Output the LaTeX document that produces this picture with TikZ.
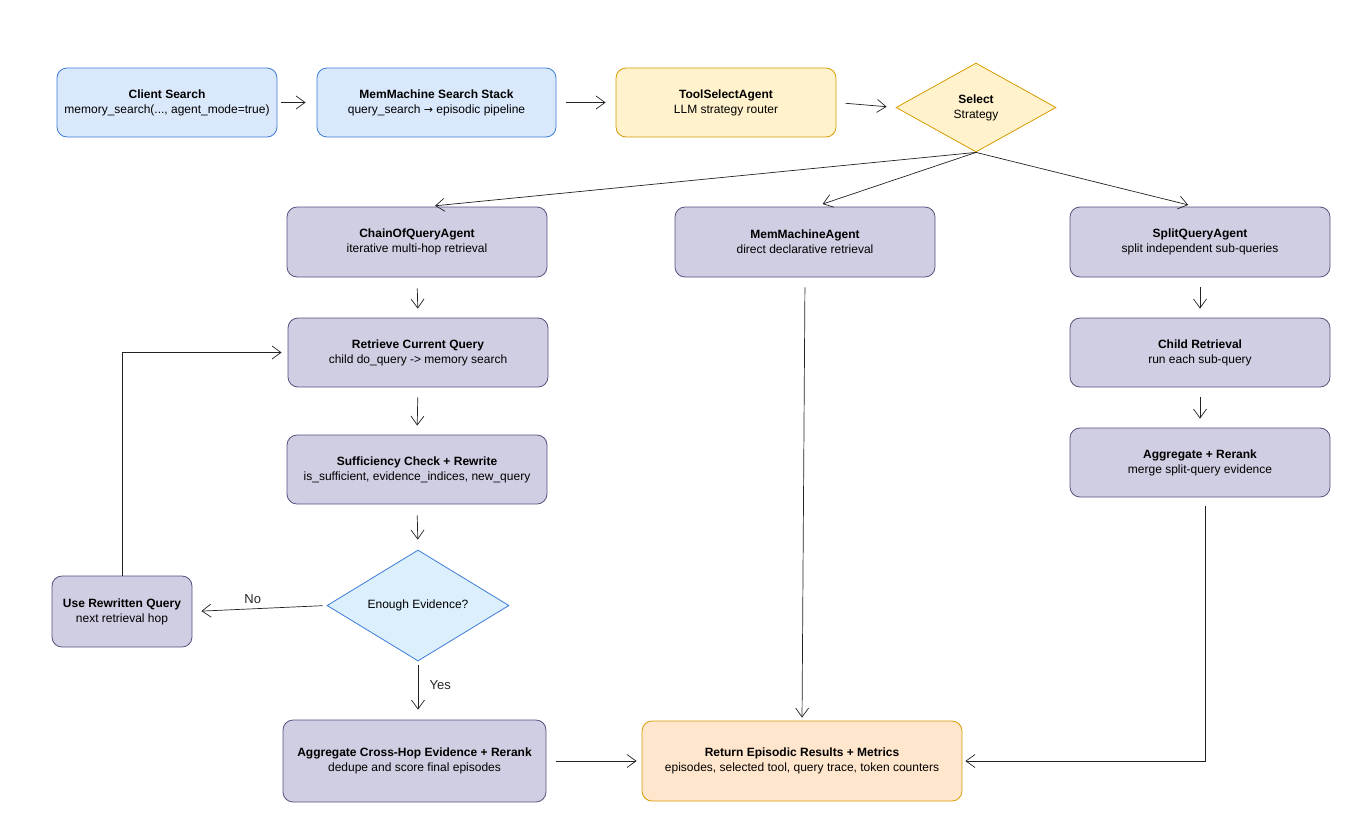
\documentclass[tikz,border=0pt]{standalone}
\usepackage{fontspec}
\setmainfont{Liberation Sans}
\newfontfamily\arrowfont{DejaVu Sans}
\usetikzlibrary{arrows.meta,shapes.geometric,calc}
\definecolor{bluefill}{HTML}{DAE8FC}
\definecolor{bluedraw}{HTML}{3D7BD9}
\definecolor{diafill}{HTML}{DCEFFD}
\definecolor{purfill}{HTML}{D0CEE2}
\definecolor{purdraw}{HTML}{56517E}
\definecolor{yelfill}{HTML}{FFF2CC}
\definecolor{orgdraw}{HTML}{D79B00}
\definecolor{orgfill}{HTML}{FFE6CC}
\definecolor{linec}{HTML}{222222}
\tikzset{
  box/.style={rectangle, rounded corners=10pt, line width=0.8pt, align=center,
    inner sep=2pt, font=\fontsize{12}{15}\selectfont},
  bluebox/.style={box, fill=bluefill, draw=bluedraw},
  purbox/.style={box, fill=purfill, draw=purdraw},
  yelbox/.style={box, fill=yelfill, draw=orgdraw},
  orgbox/.style={box, fill=orgfill, draw=orgdraw},
  dia/.style={diamond, aspect=2, inner sep=0pt, line width=0.8pt, align=center,
    font=\fontsize{12}{15}\selectfont},
  conn/.style={draw=linec, line width=0.7pt,
    -{Straight Barb[length=9pt,width=13pt,line width=0.7pt]}},
  lab/.style={font=\fontsize{13}{15}\selectfont, text=black!85},
}
\begin{document}
\begin{tikzpicture}[x=1pt,y=-1pt]
\useasboundingbox (0,0) rectangle (1364,828);
% top row
\node[bluebox, minimum width=220, minimum height=69] (cs) at (167,102.5)
  {\textbf{Client Search}\\memory\_search(..., agent\_mode=true)};
\node[bluebox, minimum width=239, minimum height=69] (mss) at (436.5,102.5)
  {\textbf{MemMachine Search Stack}\\query\_search {\arrowfont\fontsize{11}{15}\selectfont →} episodic pipeline};
\node[yelbox, minimum width=220, minimum height=69] (tsa) at (726,102.5)
  {\textbf{ToolSelectAgent}\\LLM strategy router};
\node[dia, fill=yelfill, draw=orgdraw, minimum width=160, minimum height=89] (sel) at (976,107.5)
  {\textbf{Select}\\Strategy};
% agents
\node[purbox, minimum width=260, minimum height=70] (coq) at (417,242)
  {\textbf{ChainOfQueryAgent}\\iterative multi-hop retrieval};
\node[purbox, minimum width=260, minimum height=70] (mma) at (805,242)
  {\textbf{MemMachineAgent}\\direct declarative retrieval};
\node[purbox, minimum width=260, minimum height=70] (sqa) at (1200,242)
  {\textbf{SplitQueryAgent}\\split independent sub-queries};
% left column
\node[purbox, minimum width=260, minimum height=69] (rcq) at (418,352.5)
  {\textbf{Retrieve Current Query}\\child do\_query -> memory search};
\node[purbox, minimum width=260, minimum height=69] (scr) at (417,469.5)
  {\textbf{Sufficiency Check + Rewrite}\\is\_sufficient, evidence\_indices, new\_query};
\node[dia, fill=diafill, draw=bluedraw, minimum width=182, minimum height=111] (ee) at (418,605.5)
  {Enough Evidence?};
\node[purbox, minimum width=140, minimum height=71] (urq) at (122,611.5)
  {\textbf{Use Rewritten Query}\\next retrieval hop};
\node[purbox, minimum width=263, minimum height=82] (ach) at (414.5,761)
  {\textbf{Aggregate Cross-Hop Evidence + Rerank}\\dedupe and score final episodes};
% right column
\node[purbox, minimum width=260, minimum height=69] (chr) at (1200,352.5)
  {\textbf{Child Retrieval}\\run each sub-query};
\node[purbox, minimum width=260, minimum height=69] (arr) at (1200,462.5)
  {\textbf{Aggregate + Rerank}\\merge split-query evidence};
% result
\node[orgbox, minimum width=320, minimum height=80] (ret) at (802,761)
  {\textbf{Return Episodic Results + Metrics}\\episodes, selected tool, query trace, token counters};
% connectors
\draw[conn, shorten <=4pt, shorten >=11pt] (cs.east) -- (mss.west);
\draw[conn, shorten <=10pt, shorten >=10pt] (mss.east) -- (tsa.west);
\draw[conn, shorten <=9pt, shorten >=9pt] (tsa.east) -- (sel.west);
\draw[conn, shorten >=8pt] (sel.south) -- ($(coq.north)+(10,0)$);
\draw[conn, shorten >=8pt] (sel.south) -- ($(mma.north)+(10,0)$);
\draw[conn, shorten >=7pt] (sel.south) -- ($(sqa.north)+(-5,0)$);
\draw[conn, shorten <=11pt, shorten >=9pt] (coq.south) -- (rcq.north);
\draw[conn, shorten <=10pt, shorten >=9pt] (rcq.south) -- (scr.north);
\draw[conn, shorten <=11pt, shorten >=10pt] (scr.south) -- (ee.north);
\draw[conn, shorten <=4pt, shorten >=10pt] (ee.south) -- node[lab, right=8pt, pos=0.4] {Yes} (ee.south |- ach.north);
\draw[conn, shorten <=4pt, shorten >=9pt] (ee.west) -- node[lab, above=2pt, pos=0.55] {No} (urq.east);
\draw[conn, shorten >=6pt] (urq.north) |- (rcq.west);
\draw[conn, shorten <=10pt, shorten >=3pt] (mma.south) -- (ret.north);
\draw[conn, shorten <=9pt, shorten >=3pt] ($(arr.south)+(5,0)$) |- (ret.east);
\draw[conn, shorten <=10pt, shorten >=5pt] (ach.east) -- (ret.west);
\draw[conn, shorten <=10pt, shorten >=9pt] (sqa.south) -- (chr.north);
\draw[conn, shorten <=10pt, shorten >=9pt] (chr.south) -- (arr.north);
\end{tikzpicture}
\end{document}
